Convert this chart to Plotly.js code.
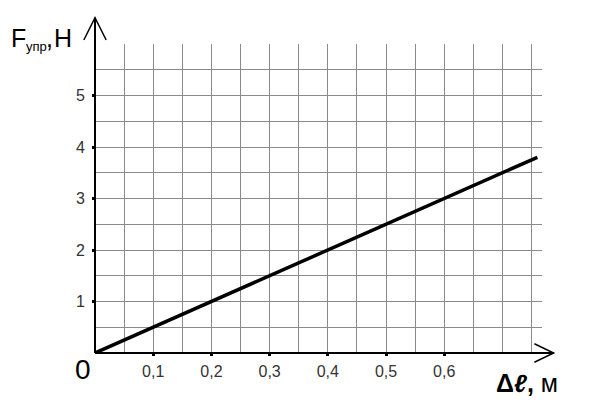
<!DOCTYPE html>
<html>
<head>
<meta charset="utf-8">
<script src="https://cdn.plot.ly/plotly-3.0.1.min.js"></script>
<style>html,body{margin:0;padding:0;background:#fff;}#chart{width:600px;height:406px;}</style>
</head>
<body>
<div id="chart"></div>
<script>
// Data
const deltaL = [0, 0.2, 0.4, 0.6, 0.76];        // Δℓ, м
const force = [0, 1, 2, 3, 3.8];                // F_упр, Н
const xTickVals = [0.1, 0.2, 0.3, 0.4, 0.5, 0.6];
const xTickText = ['0,1', '0,2', '0,3', '0,4', '0,5', '0,6'];
const yTickVals = [1, 2, 3, 4, 5];
const yTickText = ['1', '2', '3', '4', '5'];

const FONT = 'Liberation Sans, Arial, sans-serif';
const GRID = '#8a8a8a';

const trace = {x: deltaL, y: force, type: 'scatter', mode: 'lines', line: {color: '#000', width: 3.5}};

function note(text, x, y, size, xanchor) {
  return {xref: 'paper', yref: 'paper', x: x, y: y, xanchor: xanchor, yanchor: 'middle',
    showarrow: false, text: text, font: {family: FONT, size: size, color: '#000'}};
}

const layout = {
  width: 600, height: 406,
  margin: {l: 95, r: 58, t: 44, b: 53},
  font: {family: FONT, color: '#000', size: 16},
  xaxis: {
    range: [0, 0.768],
    tickmode: 'array', tickvals: xTickVals, ticktext: xTickText,
    showgrid: true, gridcolor: GRID,
    minor: {tickmode: 'linear', tick0: 0, dtick: 0.05, showgrid: true, gridcolor: GRID},
    zeroline: false,
    ticks: 'outside', ticklen: 2, tickwidth: 3, tickcolor: '#000',
    ticklabelstandoff: 2,
    tickfont: {family: FONT, size: 16, color: '#333'}
  },
  yaxis: {
    range: [0, 6],
    tickmode: 'array', tickvals: yTickVals, ticktext: yTickText,
    showgrid: true, gridcolor: GRID,
    minor: {tickmode: 'linear', tick0: 0, dtick: 0.5, showgrid: true, gridcolor: GRID},
    zeroline: false,
    ticks: 'outside', ticklen: 2, tickwidth: 3, tickcolor: '#000',
    ticklabelstandoff: 4,
    tickfont: {family: FONT, size: 16, color: '#333'}
  },
  shapes: [
    {type: 'line', xref: 'paper', yref: 'paper', x0: 0, x1: 0, y0: 0, y1: 1.085, line: {color: '#000', width: 2}},
    {type: 'path', xref: 'paper', yref: 'paper', path: 'M -0.025 1.013 L 0 1.085 L 0.025 1.013', line: {color: '#000', width: 1.5}},
    {type: 'line', xref: 'paper', yref: 'paper', x0: 0, x1: 1.026, y0: 0, y1: 0, line: {color: '#000', width: 2}},
    {type: 'path', xref: 'paper', yref: 'paper', path: 'M 0.983 0.03 L 1.026 0 L 0.983 -0.03', line: {color: '#000', width: 1.5}}
  ],
  annotations: [
    note('F', -0.192, 1.02, 25, 'left'),
    note('упр', -0.158, 0.991, 13, 'left'),
    note(',', -0.114, 1.02, 25, 'left'),
    note('Н', -0.096, 1.02, 25, 'left'),
    note('<b>Δ<i>ℓ</i>,</b> м', 0.967, -0.098, 25, 'center'),
    note('0', -0.027, -0.054, 28, 'center')
  ]
};

Plotly.newPlot('chart', [trace], layout, {staticPlot: true}).then(function(gd){
  document.querySelectorAll('.xtick text, .ytick text').forEach(function(t){ t.getBBox(); });
});
</script>
</body>
</html>
